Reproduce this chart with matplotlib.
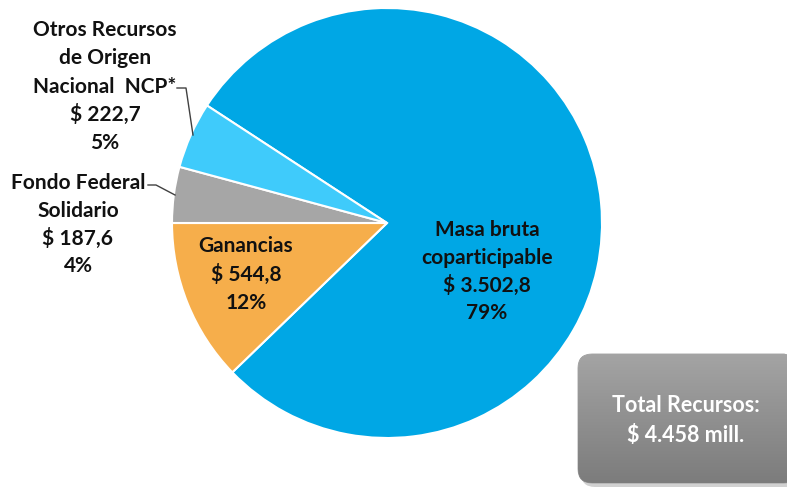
import numpy as np
import matplotlib
matplotlib.use("Agg")
import matplotlib.pyplot as plt
from matplotlib.patches import FancyBboxPatch

plt.rcParams["font.family"] = ["Lato", "DejaVu Sans"]

# data
labels = [["Masa bruta", "coparticipable"], ["Ganancias"], ["Fondo Federal", "Solidario"],
          ["Otros Recursos", "de Origen", "Nacional  NCP*"]]
values = [3502.8, 544.8, 187.6, 222.7]
value_labels = ["$ 3.502,8", "$ 544,8", "$ 187,6", "$ 222,7"]
pct_labels = ["79%", "12%", "4%", "5%"]
colors = ["#00A7E5", "#F6AE4B", "#A6A6A6", "#3FCBFB"]
total_lines = ["Total Recursos:", "$ 4.458 mill."]

W, H = 787, 487
fig = plt.figure(figsize=(W / 100, H / 100), dpi=100)
ax = fig.add_axes([0, 0, 1, 1])

cx, cy, r = 387, H - 223, 215
start = 180 - (values[2] + values[3]) / sum(values) * 360
ax.pie(values, colors=colors, startangle=start, counterclock=False,
       center=(cx, cy), radius=r, frame=True,
       wedgeprops=dict(edgecolor="white", linewidth=1.5))

fs = 15
txt = "#111111"
# label anchors in image pixels: x centre, y of first line, line step
pos = [(487, 230, 27.8), (246, 246, 28.5), (78, 183, 27.7), (105, 30, 28.3)]
for lab, v, p, (x, y, step) in zip(labels, value_labels, pct_labels, pos):
    lines = lab + [v, p]
    for i, line in enumerate(lines):
        ax.text(x, H - (y + i * step), line, ha="center", va="center",
                fontsize=fs, fontweight="bold", color=txt)

# leader lines
ax.plot([177, 186, 193], [H - 88, H - 88, H - 135], color="#404040", lw=1)
ax.plot([148, 156, 175], [H - 185, H - 185, H - 195], color="#404040", lw=1)

# total box with shadow and gradient
bx, by, bw, bh = 578, H - 483, 220, 129
shadow = FancyBboxPatch((bx + 3, by - 4), bw, bh, boxstyle="round,pad=0,rounding_size=14",
                        fc="#000000", ec="none", alpha=0.18)
ax.add_patch(shadow)
box = FancyBboxPatch((bx, by), bw, bh, boxstyle="round,pad=0,rounding_size=14",
                     fc="none", ec="#8c8c8c", lw=0.5)
ax.add_patch(box)
grad = np.linspace(0, 1, 256).reshape(-1, 1)
cmap = matplotlib.colors.LinearSegmentedColormap.from_list("g", ["#7c7c7c", "#a4a4a4"])
im = ax.imshow(grad, extent=(bx, bx + bw, by, by + bh), origin="lower",
               cmap=cmap, aspect="auto", zorder=2)
im.set_clip_path(box)
for i, line in enumerate(total_lines):
    ax.text(686, H - (406 + i * 30), line, ha="center", va="center", fontsize=15.5,
            fontweight="bold", color="white", zorder=3)

ax.set_xlim(0, W)
ax.set_ylim(0, H)
ax.axis("off")

fig.savefig("out.png", dpi=100)
